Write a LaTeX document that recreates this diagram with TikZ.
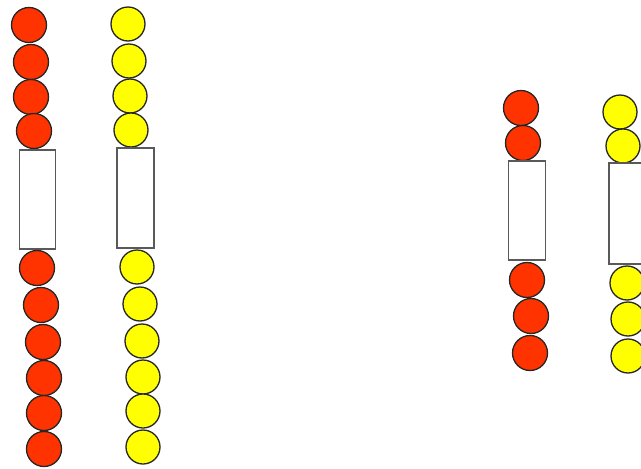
\documentclass[tikz,border=0pt]{standalone}
\begin{document}
\begin{tikzpicture}[x=1pt,y=-1pt,
  ball/.style={circle,draw=black!85,line width=1.3pt,inner sep=0pt,minimum size=35pt},
  redball/.style={ball,fill={rgb,255:red,255;green,51;blue,0}},
  yelball/.style={ball,fill={rgb,255:red,255;green,255;blue,0},minimum size=34pt},
  slab/.style={draw=black!65,line width=1.3pt,fill=white,inner sep=0pt,minimum width=36pt,minimum height=99pt}]
\clip (0,0) rectangle (641,469);
\useasboundingbox (0,0) rectangle (641,469);
\fill[white] (0,0) rectangle (641,469);
% left red column
\node[redball] (ra1) at (29,25) {};
\node[redball] (ra2) at (31,62) {};
\node[redball] (ra3) at (31,97) {};
\node[redball] (ra4) at (34,131) {};
\node[slab] (rs) at (37.5,199.5) {};
\node[redball] (rb1) at (37,268) {};
\node[redball] (rb2) at (41,305) {};
\node[redball] (rb3) at (43,342) {};
\node[redball] (rb4) at (44,378) {};
\node[redball] (rb5) at (44,413) {};
\node[redball] (rb6) at (44,449) {};
% left yellow column
\node[yelball] (ya1) at (128,24) {};
\node[yelball] (ya2) at (129,61) {};
\node[yelball] (ya3) at (130,96) {};
\node[yelball] (ya4) at (131,130) {};
\node[slab,minimum width=37pt,minimum height=100pt] (ys) at (135.5,198) {};
\node[yelball] (yb1) at (137,267) {};
\node[yelball] (yb2) at (140,304) {};
\node[yelball] (yb3) at (142,341) {};
\node[yelball] (yb4) at (143,377) {};
\node[yelball] (yb5) at (143,411) {};
\node[yelball] (yb6) at (143,447) {};
% right red column
\node[redball] (rc1) at (521,108) {};
\node[redball] (rc2) at (523,143) {};
\node[slab,minimum width=37pt] (rt) at (527,210.5) {};
\node[redball] (rd1) at (527,280) {};
\node[redball] (rd2) at (531,316) {};
\node[redball] (rd3) at (530,353) {};
% right yellow column
\node[yelball] (yc1) at (620,112) {};
\node[yelball] (yc2) at (623,146) {};
\node[slab,minimum width=37pt,minimum height=101pt] (yt) at (627.5,213.5) {};
\node[yelball] (yd1) at (627,283) {};
\node[yelball] (yd2) at (628,319) {};
\node[yelball] (yd3) at (628,356) {};
\end{tikzpicture}
\end{document}
